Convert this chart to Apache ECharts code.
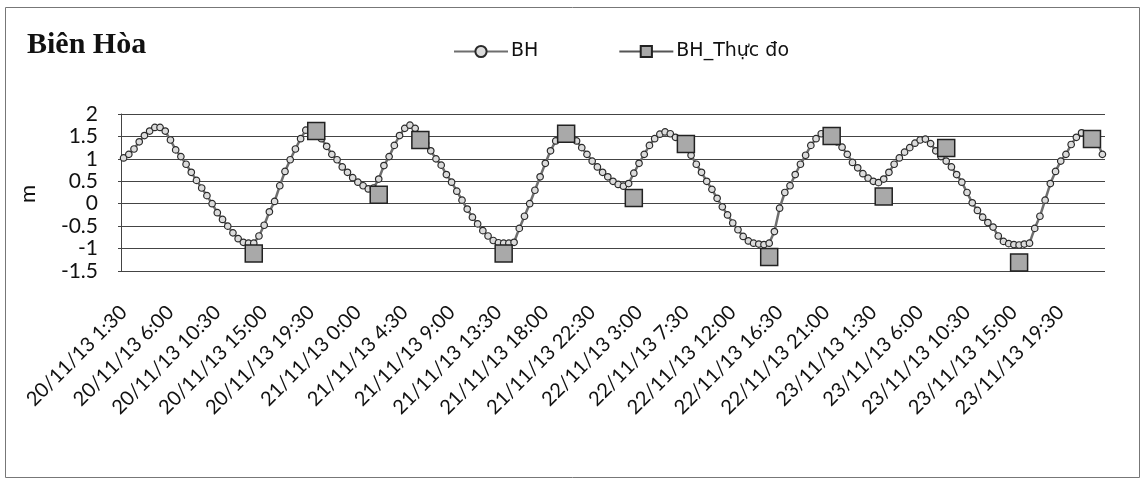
<!DOCTYPE html>
<html>
<head>
<meta charset="utf-8">
<script src="https://cdn.jsdelivr.net/npm/echarts@6/dist/echarts.min.js"></script>
<style>html,body{margin:0;padding:0;background:#fff}#c{width:1142px;height:479px}</style>
</head>
<body>
<div id="c"></div>
<script>
// Categories: 30-minute steps starting 20/11/13 1:30
const startDay = 20, startMinutes = 90, stepMinutes = 30, pointCount = 189;
const categories = [];
for (let i = 0; i < pointCount; i++) {
  const t = startMinutes + i * stepMinutes;
  const d = startDay + Math.floor(t / 1440);
  const m = t % 1440;
  const h = Math.floor(m / 60), mm = m % 60;
  categories.push(d + '/11/13 ' + h + ':' + (mm < 10 ? '0' + mm : mm));
}

// Modelled water level BH (m)
const bhValues = [
  1.02, 1.10, 1.22, 1.38, 1.52, 1.62, 1.70, 1.70, 1.62, 1.42,
  1.20, 1.05, 0.88, 0.70, 0.52, 0.35, 0.18, 0.00, -0.20, -0.35,
  -0.50, -0.65, -0.78, -0.86, -0.88, -0.88, -0.72, -0.48, -0.18, 0.05,
  0.40, 0.72, 0.98, 1.22, 1.45, 1.64, 1.69, 1.65, 1.45, 1.28,
  1.10, 0.98, 0.82, 0.70, 0.58, 0.48, 0.40, 0.33, 0.35, 0.55,
  0.85, 1.05, 1.30, 1.52, 1.68, 1.75, 1.68, 1.52, 1.35, 1.18,
  1.00, 0.86, 0.65, 0.48, 0.28, 0.08, -0.12, -0.30, -0.45, -0.60,
  -0.72, -0.82, -0.87, -0.88, -0.88, -0.86, -0.55, -0.28, 0.00, 0.30,
  0.60, 0.90, 1.18, 1.40, 1.58, 1.58, 1.50, 1.40, 1.25, 1.10,
  0.95, 0.82, 0.70, 0.60, 0.50, 0.43, 0.39, 0.45, 0.68, 0.90,
  1.10, 1.30, 1.45, 1.55, 1.60, 1.56, 1.48, 1.38, 1.22, 1.08,
  0.88, 0.70, 0.50, 0.32, 0.12, -0.07, -0.25, -0.43, -0.58, -0.73,
  -0.83, -0.88, -0.90, -0.91, -0.88, -0.62, -0.10, 0.25, 0.40, 0.65,
  0.88, 1.08, 1.30, 1.45, 1.56, 1.56, 1.50, 1.38, 1.26, 1.10,
  0.92, 0.80, 0.67, 0.57, 0.50, 0.47, 0.55, 0.70, 0.88, 1.02,
  1.15, 1.25, 1.35, 1.42, 1.44, 1.34, 1.18, 1.05, 0.95, 0.82,
  0.65, 0.48, 0.25, 0.02, -0.15, -0.30, -0.42, -0.52, -0.72, -0.84,
  -0.89, -0.91, -0.92, -0.90, -0.88, -0.55, -0.28, 0.08, 0.45, 0.72,
  0.95, 1.10, 1.32, 1.48, 1.58, 1.55, 1.45, 1.38, 1.10
];

// Observed values BH_Thực đo (m)
const obsTimes = ['20/11/13 14:00', '20/11/13 20:00', '21/11/13 2:00', '21/11/13 6:00',
  '21/11/13 14:00', '21/11/13 20:00', '22/11/13 2:30', '22/11/13 7:30',
  '22/11/13 15:30', '22/11/13 21:30', '23/11/13 2:30', '23/11/13 8:30',
  '23/11/13 15:30', '23/11/13 22:30'];
const obsValues = [-1.11, 1.62, 0.20, 1.42, -1.11, 1.56, 0.13, 1.33, -1.19, 1.51, 0.16, 1.24, -1.31, 1.44];

const yTicks = { min: -1.5, max: 2, interval: 0.5 };

const obsSeries = categories.map(() => null);
obsTimes.forEach((t, k) => { const i = categories.indexOf(t); if (i >= 0) obsSeries[i] = obsValues[k]; });

const chart = echarts.init(document.getElementById('c'));
chart.setOption({
  animation: false,
  backgroundColor: '#fff',
  graphic: [
    { type: 'rect', shape: { x: 5.5, y: 7.5, width: 1134, height: 470 }, style: { fill: 'none', stroke: '#777', lineWidth: 1 }, silent: true },
    { type: 'text', left: 27, top: 30, style: { text: 'Biên Hòa', font: 'bold 30px "Liberation Serif"', fill: '#111' } },
    { type: 'text', x: 28, y: 194, rotation: Math.PI / 2, style: { text: 'm', font: '22px Lato', fill: '#111', align: 'center', verticalAlign: 'middle' } }
  ],
  legend: {
    left: 448, top: 37,
    itemWidth: 54, itemHeight: 14, itemGap: 80,
    textStyle: { fontFamily: 'DejaVu Sans', fontSize: 19, color: '#111', padding: [0, 0, 0, -2] },
    data: ['BH', 'BH_Thực đo']
  },
  grid: { left: 121, right: 37, top: 114, bottom: 208, containLabel: false },
  xAxis: {
    type: 'category',
    data: categories,
    boundaryGap: true,
    axisLine: { show: false },
    axisTick: { show: false },
    axisLabel: { interval: 8, rotate: 45, margin: 38, fontFamily: 'Lato', fontSize: 20, color: '#111' }
  },
  yAxis: {
    type: 'value',
    min: yTicks.min, max: yTicks.max, interval: yTicks.interval,
    axisLine: { show: true, lineStyle: { color: '#444', width: 1 } },
    axisTick: { show: true, length: 3, lineStyle: { color: '#444' } },
    axisLabel: { margin: 23, fontFamily: 'Lato', fontSize: 21, color: '#111', formatter: v => String(v) },
    splitLine: { lineStyle: { color: '#444', width: 1 } }
  },
  series: [
    {
      name: 'BH', type: 'line', data: bhValues,
      symbol: 'circle', symbolSize: 6.5, showAllSymbol: true,
      lineStyle: { color: '#6e6e6e', width: 2.5 },
      itemStyle: { color: '#dcdcdc', borderColor: '#2a2a2a', borderWidth: 1.2 },
      z: 2
    },
    {
      name: 'BH_Thực đo', type: 'line', data: obsSeries,
      symbol: 'rect', symbolSize: 17, showAllSymbol: true, connectNulls: false,
      lineStyle: { color: '#555', width: 3 },
      itemStyle: { color: '#a9a9a9', borderColor: '#222', borderWidth: 1.5 },
      z: 3
    }
  ]
});
</script>
</body>
</html>
